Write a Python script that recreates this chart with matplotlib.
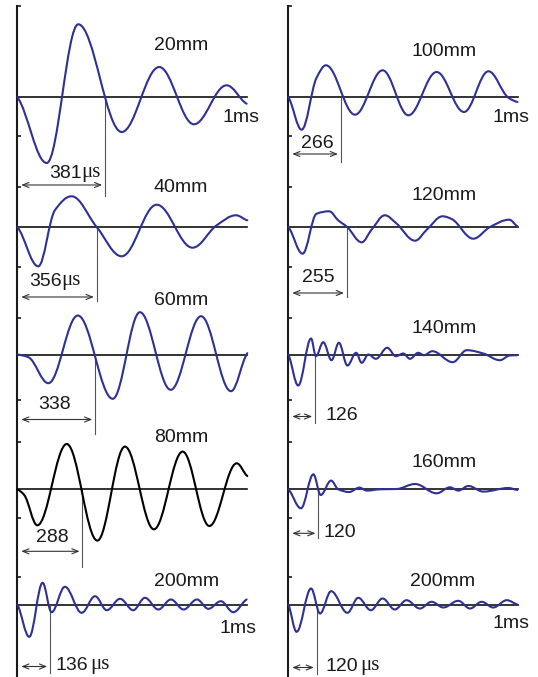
import numpy as np
import matplotlib
matplotlib.use("Agg")
import matplotlib.pyplot as plt
from matplotlib.path import Path
from matplotlib.patches import PathPatch

# ---------------- data (time in ms, amplitude in arbitrary units) ----------------
left_names = ["20mm", "40mm", "60mm", "80mm", "200mm"]
right_names = ["100mm", "120mm", "140mm", "160mm", "200mm"]

t_20 = [0, 0.128, 0.265, 0.454, 0.617, 0.768, 0.910, 0.997]
a_20 = [0, -66, 72.7, -35, 30, -27.3, 11.7, -6.7]

t_40 = [0, 0.091, 0.164, 0.236, 0.345, 0.454, 0.606, 0.762, 0.867, 0.951, 1.0]
a_40 = [0, -39.3, 17, 30.7, 0, -29.3, 22.3, -20.7, 1.7, 11.7, 6.7]

t_60 = [0, 0.048, 0.135, 0.263, 0.415, 0.533, 0.667, 0.799, 0.929, 1.0]
a_60 = [0, -2.7, -28.7, 39, -44.3, 42.3, -35.3, 38.3, -36.7, 1.3]

t_80 = [0, 0.030, 0.087, 0.215, 0.348, 0.468, 0.594, 0.719, 0.835, 0.954, 1.0]
a_80 = [0, -5.7, -36, 45.3, -51.3, 42.7, -40, 37.7, -36.7, 26, 13.3]

t_200a = [0, 0.052, 0.110, 0.149, 0.207, 0.280, 0.338, 0.389, 0.447, 0.504,
          0.555, 0.613, 0.668, 0.723, 0.781, 0.831, 0.885, 0.939, 0.997]
a_200a = [0, -32.3, 21.7, -7.7, 17.7, -8.3, 8.3, -5.7, 5.7, -5.7,
          6.7, -5, 5, -5, 5, -4.3, 3.3, -7.7, 5]

t_100 = [0, 0.058, 0.123, 0.164, 0.290, 0.410, 0.522, 0.645, 0.764, 0.870, 0.957, 0.996]
a_100 = [0, -32.7, 19.3, 31.7, -17.7, 26.7, -18.3, 25, -15, 25.7, -0.7, -5]

t_120 = [0, 0.062, 0.123, 0.178, 0.217, 0.256, 0.319, 0.362, 0.420, 0.468,
         0.551, 0.602, 0.671, 0.710, 0.804, 0.877, 0.961, 0.996]
a_120 = [0, -26.7, 13.3, 15.7, 6.7, 0, -15.3, -2.7, 11.7, 4,
         -13.7, -2.7, 10.7, 8, -11.7, 0, 7.3, 0.7]

t_140 = [0, 0.043, 0.099, 0.120, 0.152, 0.188, 0.220, 0.257, 0.295, 0.319, 0.348,
         0.381, 0.430, 0.468, 0.500, 0.529, 0.565, 0.590, 0.626, 0.715, 0.776,
         0.848, 0.920, 0.963, 0.996]
a_140 = [0, -31, 16, -1.7, 12.3, -5.7, 11.7, -11, 1.7, -8.3, 0,
         -4.3, 6.7, -1.7, 1, -4.3, 1.7, -0.7, 3.3, -7.7, 4.3,
         1, -5.7, -1, -0.7]

t_160 = [0, 0.055, 0.109, 0.141, 0.186, 0.217, 0.265, 0.309, 0.341, 0.399, 0.471,
         0.551, 0.645, 0.703, 0.739, 0.783, 0.848, 0.957, 0.996]
a_160 = [0, -19, 15, -5.7, 8.7, 0, -2.7, 1.7, -1.3, 0, 0.3,
         5.3, -4, 2, -1.3, 3.3, -2.3, 1.3, -0.7]

t_200b = [0, 0.036, 0.099, 0.138, 0.186, 0.257, 0.304, 0.359, 0.410, 0.463,
          0.514, 0.572, 0.623, 0.674, 0.739, 0.790, 0.841, 0.891, 0.950, 0.996]
a_200b = [0, -27.3, 16, -9, 13.3, -8.3, 6.7, -5.7, 6, -5,
          4.3, -4, 2.7, -3, 3.7, -4, 2.7, -3, 4.3, 0]

left_times = [t_20, t_40, t_60, t_80, t_200a]
left_amps = [a_20, a_40, a_60, a_80, a_200a]
right_times = [t_100, t_120, t_140, t_160, t_200b]
right_amps = [a_100, a_120, a_140, a_160, a_200b]

# arrival-time markers (ms, as drawn) and their labels
left_marker_ms = [0.381, 0.345, 0.338, 0.283, 0.142]
right_marker_ms = [0.228, 0.254, 0.116, 0.130, 0.123]
left_marker_labels = ["381", "356", "338", "288", "136"]
right_marker_labels = ["266", "255", "126", "120", "120"]
left_marker_units = ["μs", "μs", "", "", "μs"]
right_marker_units = ["", "", "", "", "μs"]

# ---------------- layout (pixels / offsets) ----------------
W, H = 538, 677
PX_PER_MS = 230.0
col_x0 = [17.3, 288.3]
baselines = [97, 227, 354.5, 489.3, 604.5]
col_ticks = [6, 136, 187, 267, 318, 400, 442, 518, 577]

left_layout = [  # marker bottom, arrow y, label y, label x, title y
    (-99, -88, -76, 0.138, 51),
    (-74, -70, -55, 0.051, 40),
    (-79, -65, -50, 0.090, 54),
    (-78, -62, -48, 0.081, 52),
    (-68, -62, -61, 0.164, 23),
]
right_layout = [
    (-65, -57, -46, 0.054, 45),
    (-70, -66, -50, 0.060, 31),
    (-68, -62, -61, 0.160, 26),
    (-49, -44, -43, 0.155, 27),
    (-69, -63, -62, 0.160, 23),
]
title_x = [[0.594] * 5, [0.537, 0.537, 0.537, 0.537, 0.529]]
ms_labels = {(0, 0): (0.893, -20), (0, 4): (0.877, -24),
             (1, 0): (0.889, -20), (1, 4): (0.889, -19)}

BLUE = "#2E3192"
TXT = "#1a1a1a"
FONT = "Liberation Sans"
SERIF = "Liberation Serif"
FS = 14


def bezier_path(t, a, k=0.3634):
    t = np.asarray(t, float)
    a = np.asarray(a, float)
    d = np.diff(a) / np.diff(t)
    n = len(t)
    m = np.zeros(n)
    for i in range(1, n - 1):
        if d[i - 1] * d[i] > 0:
            m[i] = 2.0 / (1.0 / d[i - 1] + 1.0 / d[i])
    m[0] = 0.6 * d[0]
    m[-1] = 0.6 * d[-1]
    verts = [(t[0], a[0])]
    codes = [Path.MOVETO]
    for i in range(n - 1):
        h = t[i + 1] - t[i]
        verts += [(t[i] + h * k, a[i] + m[i] * h * k),
                  (t[i + 1] - h * k, a[i + 1] - m[i + 1] * h * k),
                  (t[i + 1], a[i + 1])]
        codes += [Path.CURVE4] * 3
    return Path(verts, codes)


fig = plt.figure(figsize=(W / 100, H / 100), dpi=100)
fig.patch.set_facecolor("white")

columns = [
    (left_names, left_times, left_amps, left_marker_ms, left_marker_labels, left_marker_units, left_layout),
    (right_names, right_times, right_amps, right_marker_ms, right_marker_labels, right_marker_units, right_layout),
]

for c, (names, times, amps, mks, mlabels, munits, layout) in enumerate(columns):
    x0 = col_x0[c]
    # column vertical axis
    cax = fig.add_axes([x0 / W, 0, PX_PER_MS / W, 1])
    cax.set_xlim(0, 1)
    cax.set_ylim(H, 0)
    cax.patch.set_visible(False)
    for s in ["top", "right", "bottom"]:
        cax.spines[s].set_visible(False)
    cax.spines["left"].set_bounds(col_ticks[0], H)
    cax.spines["left"].set_linewidth(1.5)
    cax.spines["left"].set_color("#1a1a1a")
    cax.set_xticks([])
    cax.set_yticks(col_ticks)
    cax.tick_params(axis="y", direction="in", length=3, width=1.2,
                    labelleft=False, color="#1a1a1a")

    for r in range(5):
        base = baselines[r]
        ax = fig.add_axes([x0 / W, 1 - (base + 60) / H, PX_PER_MS / W, 120 / H])
        ax.set_xlim(0, 1)
        ax.set_ylim(-60, 60)
        ax.axis("off")
        color = "black" if (c == 0 and r == 3) else BLUE
        mb, ay, ly, lx, ty = layout[r]
        mk = mks[r]

        ax.plot([0, 1.0], [0, 0], color="#111111", lw=1.2, clip_on=False, zorder=2)
        ax.plot([mk, mk], [0, mb], color="#555555", lw=0.8, clip_on=False, zorder=2)
        patch = PathPatch(bezier_path(times[r], amps[r]), facecolor="none",
                          edgecolor=color, lw=1.5, clip_on=False, zorder=3,
                          capstyle="round", joinstyle="round")
        ax.add_patch(patch)

        ax.annotate("", xy=(mk - 0.012, ay), xytext=(0.017, ay),
                    arrowprops=dict(arrowstyle="<->,head_length=0.45,head_width=0.18",
                                    lw=0.8, color="#333333", shrinkA=0, shrinkB=0,
                                    mutation_scale=10),
                    annotation_clip=False)
        num = ax.text(lx, ly, mlabels[r], fontsize=FS, family=FONT, color=TXT,
                      ha="left", va="center", clip_on=False)
        if munits[r]:
            gap = 2 if r == 4 else 0
            ax.annotate(munits[r], xy=(1, 0), xycoords=num, xytext=(gap, 0),
                        textcoords="offset points", fontsize=FS + 1, family=SERIF,
                        color=TXT, ha="left", va="bottom", annotation_clip=False)

        ax.text(title_x[c][r], ty, names[r], fontsize=FS, family=FONT, color=TXT,
                ha="left", va="center", clip_on=False)
        if (c, r) in ms_labels:
            mx, my = ms_labels[(c, r)]
            ax.text(mx, my, "1ms", fontsize=FS, family=FONT, color=TXT,
                    ha="left", va="center", clip_on=False)

fig.savefig("out.png", dpi=100, facecolor="white")
